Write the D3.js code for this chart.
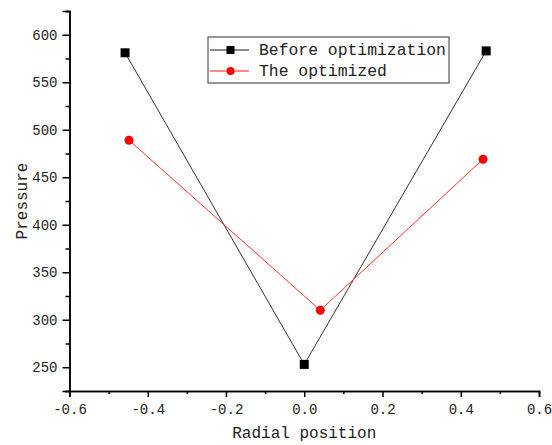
<!DOCTYPE html>
<html>
<head>
<meta charset="utf-8">
<script src="https://cdn.jsdelivr.net/npm/d3@7"></script>
<style>
  body { margin: 0; background: #fff; }
  text { font-family: "Liberation Mono", "DejaVu Sans Mono", monospace; fill: #222; }
</style>
</head>
<body>
<div id="chart"></div>
<script>
// data
var seriesNames = ["Before optimization", "The optimized"];
var beforeX = [-0.458, 0.0, 0.465];
var beforeY = [581, 253, 583];
var optX = [-0.448, 0.041, 0.457];
var optY = [489, 310, 469];
var xTicks = [-0.6, -0.4, -0.2, 0.0, 0.2, 0.4, 0.6];
var yTicks = [250, 300, 350, 400, 450, 500, 550, 600];

// 1: dimensions
var W = 552, H = 445;
var margin = {top: 11, right: 13, bottom: 54, left: 69.5};
var width = W - margin.left - margin.right,
    height = H - margin.top - margin.bottom;

var svg = d3.select("#chart").append("svg")
    .attr("width", W)
    .attr("height", H)
  .append("g")
    .attr("transform", "translate(" + margin.left + "," + margin.top + ")");

// 2: scales
var x = d3.scaleLinear().domain([-0.6, 0.6]).range([0, width]);
var y = d3.scaleLinear().domain([225, 625]).range([height, 0]);

// 3: axes (minor ticks first, then major)
var xMinor = d3.axisBottom(x).tickValues(d3.range(-0.5, 0.6, 0.2)).tickSize(3).tickFormat("");
var yMinor = d3.axisLeft(y).tickValues(d3.range(225, 626, 50)).tickSize(4).tickFormat("");
var xAxis = d3.axisBottom(x).tickValues(xTicks).tickSize(6).tickPadding(7)
    .tickFormat(function(d) { return d3.format(".1f")(d).replace("−", "-"); });
var yAxis = d3.axisLeft(y).tickValues(yTicks).tickSize(7).tickPadding(5);

svg.append("g").attr("class", "axis").attr("transform", "translate(0," + height + ")").call(xMinor);
svg.append("g").attr("class", "axis").call(yMinor);
svg.append("g").attr("class", "axis").attr("transform", "translate(0," + height + ")").call(xAxis);
svg.append("g").attr("class", "axis").call(yAxis);

svg.selectAll(".axis path, .axis line").attr("stroke", "#000").attr("stroke-width", 1.5);
svg.selectAll(".axis text").style("font-size", "14px").attr("fill", "#222");

// 4: axis labels
svg.append("text")
    .attr("text-anchor", "middle")
    .attr("transform", "translate(" + width / 2 + "," + (height + 47) + ")")
    .style("font-size", "16px")
    .text("Radial position");
svg.append("text")
    .attr("text-anchor", "middle")
    .attr("transform", "translate(" + (-43) + "," + height / 2 + ")rotate(-90)")
    .style("font-size", "16px")
    .text("Pressure");

// 5: lines and markers
var line = d3.line()
    .x(function(d) { return x(d[0]); })
    .y(function(d) { return y(d[1]); });

var before = d3.zip(beforeX, beforeY);
var opt = d3.zip(optX, optY);

svg.append("path").datum(before)
    .attr("fill", "none").attr("stroke", "#333").attr("stroke-width", 1)
    .attr("d", line);
svg.append("path").datum(opt)
    .attr("fill", "none").attr("stroke", "#ff3030").attr("stroke-width", 1)
    .attr("d", line);

svg.selectAll(".sq").data(before).enter().append("rect")
    .attr("x", function(d) { return x(d[0]) - 4.5; })
    .attr("y", function(d) { return y(d[1]) - 4.5; })
    .attr("width", 9).attr("height", 9)
    .attr("fill", "#000");
svg.selectAll(".dot").data(opt).enter().append("circle")
    .attr("cx", function(d) { return x(d[0]); })
    .attr("cy", function(d) { return y(d[1]); })
    .attr("r", 4.5)
    .attr("fill", "#ff0000");

// 6: legend
var leg = svg.append("g").attr("transform", "translate(" + (208 - margin.left) + "," + (37 - margin.top) + ")");
leg.append("rect")
    .attr("width", 241).attr("height", 46)
    .attr("fill", "#fff").attr("stroke", "#333").attr("stroke-width", 1);

var rows = [
  {name: seriesNames[0], stroke: "#666", fill: "#000", shape: "sq", yy: 13},
  {name: seriesNames[1], stroke: "#ff6060", fill: "#ff0000", shape: "dot", yy: 34}
];
rows.forEach(function(r) {
  leg.append("line")
      .attr("x1", 2).attr("x2", 41).attr("y1", r.yy).attr("y2", r.yy)
      .attr("stroke", r.stroke).attr("stroke-width", 1.5);
  if (r.shape === "sq") {
    leg.append("rect").attr("x", 18.5).attr("y", r.yy - 4).attr("width", 8).attr("height", 8).attr("fill", r.fill);
  } else {
    leg.append("circle").attr("cx", 22.5).attr("cy", r.yy).attr("r", 4).attr("fill", r.fill);
  }
  leg.append("text")
      .attr("x", 51).attr("y", r.yy + 5)
      .style("font-size", "16.4px")
      .text(r.name);
});
</script>
</body>
</html>
